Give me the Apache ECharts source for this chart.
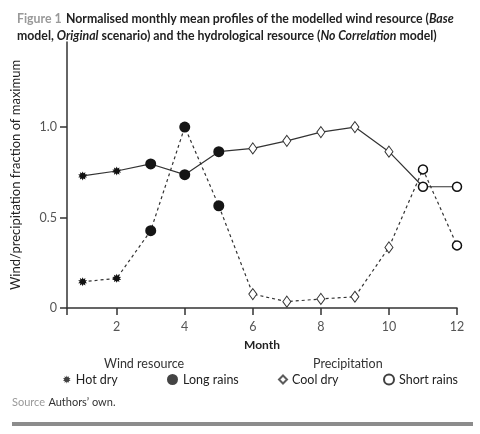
<!DOCTYPE html>
<html>
<head>
<meta charset="utf-8">
<script src="https://cdn.jsdelivr.net/npm/echarts@6/dist/echarts.min.js"></script>
<style>
  html, body { margin: 0; padding: 0; background: #fff; }
  #chart { width: 480px; height: 434px; }
</style>
</head>
<body>
<div id="chart"></div>
<script>
// data
const months = [1, 2, 3, 4, 5, 6, 7, 8, 9, 10, 11, 12];
const windValues = [0.73, 0.757, 0.796, 0.737, 0.864, 0.882, 0.924, 0.972, 1.0, 0.864, 0.67, 0.67];
const precipValues = [0.145, 0.164, 0.427, 1.0, 0.565, 0.077, 0.035, 0.05, 0.062, 0.335, 0.766, 0.346];
const seasonOfMonth = ['Hot dry', 'Hot dry', 'Long rains', 'Long rains', 'Long rains',
    'Cool dry', 'Cool dry', 'Cool dry', 'Cool dry', 'Cool dry', 'Short rains', 'Short rains'];
const seasons = ['Hot dry', 'Long rains', 'Cool dry', 'Short rains'];
const xTickValues = [2, 4, 6, 8, 10, 12];
const yTickValues = [0, 0.5, 1];
const yTickLabels = ['0', '0.5', '1.0'];

const FONT = 'Lato';
const X_MIN = 0.54;

// starburst marker for "Hot dry"
function starPath(spikes) {
    let d = '';
    for (let i = 0; i < spikes * 2; i++) {
        const r = i % 2 === 0 ? 10 : 6;
        const a = Math.PI * i / spikes;
        d += (i === 0 ? 'M' : 'L') + (10 + r * Math.sin(a)).toFixed(2) + ' ' + (10 - r * Math.cos(a)).toFixed(2);
    }
    return 'path://' + d + 'Z';
}
const STAR = starPath(10);

const markerStyle = {
    'Hot dry': { symbol: STAR, symbolSize: 9, itemStyle: { color: '#111', borderWidth: 0 } },
    'Long rains': { symbol: 'circle', symbolSize: 11, itemStyle: { color: '#151515', borderWidth: 0 } },
    'Cool dry': { symbol: 'diamond', symbolSize: [8, 11], itemStyle: { color: '#fff', borderColor: '#333', borderWidth: 1 } },
    'Short rains': { symbol: 'circle', symbolSize: 9, itemStyle: { color: '#fff', borderColor: '#111', borderWidth: 1.5 } }
};

function pointsFor(values) {
    return months.map((m, i) => {
        const s = markerStyle[seasonOfMonth[i]];
        return { value: [m, values[i]], symbol: s.symbol, symbolSize: s.symbolSize, itemStyle: s.itemStyle };
    });
}

const legendLeft = [63, 167, 278, 383];
const legendIcon = [8, 11, 8, 10];

const chart = echarts.init(document.getElementById('chart'));
chart.setOption({
    animation: false,
    textStyle: { fontFamily: FONT },
    title: {
        left: 12,
        top: 5,
        text: '{g|Figure 1} {b|Normalised monthly mean profiles of the modelled wind resource (}{i|Base}\n' +
            '{b|model, }{i|Original}{b| scenario) and the hydrological resource (}{i|No Correlation}{b| model)}',
        textStyle: {
            rich: {
                g: { color: '#999', fontSize: 12.3, fontFamily: FONT, fontWeight: 'bold', lineHeight: 16 },
                b: { color: '#222', fontSize: 12.3, fontFamily: FONT, fontWeight: 'bold', lineHeight: 16 },
                i: { color: '#222', fontSize: 12.3, fontFamily: FONT, fontWeight: 'bold', fontStyle: 'italic', lineHeight: 16 }
            }
        }
    },
    grid: { left: 67, right: 23, top: 42, bottom: 126, outerBoundsMode: 'none' },
    xAxis: {
        type: 'value',
        min: X_MIN,
        max: 12,
        name: 'Month',
        nameLocation: 'middle',
        nameGap: 31,
        nameTextStyle: { color: '#222', fontSize: 12, fontWeight: 'bold', fontFamily: FONT },
        axisLine: { lineStyle: { color: '#333', width: 1.5 } },
        axisTick: { length: 7, lineStyle: { color: '#333', width: 1.5 }, customValues: [X_MIN].concat(xTickValues) },
        axisLabel: { color: '#555', fontSize: 12.5, margin: 12, customValues: xTickValues },
        splitLine: { show: false }
    },
    yAxis: {
        type: 'value',
        min: 0,
        max: 1.47,
        name: 'Wind/precipitation fraction of maximum',
        nameLocation: 'middle',
        nameGap: 45,
        nameTextStyle: { color: '#222', fontSize: 13, fontFamily: FONT },
        axisLine: { show: true, lineStyle: { color: '#333', width: 1.5 } },
        axisTick: { show: true, length: 7, lineStyle: { color: '#333', width: 1.5 }, customValues: yTickValues },
        axisLabel: {
            color: '#555', fontSize: 12.5, margin: 10, customValues: yTickValues,
            formatter: v => yTickLabels[yTickValues.indexOf(v)]
        },
        splitLine: { show: false }
    },
    legend: seasons.map((s, i) => ({
        data: [s],
        left: legendLeft[i],
        top: 373,
        padding: 0,
        itemGap: 0,
        itemWidth: legendIcon[i],
        itemHeight: legendIcon[i],
        textStyle: { color: '#222', fontSize: 12.5, fontFamily: FONT }
    })),
    graphic: [
        { type: 'text', left: 143 - 39, top: 357, style: { text: 'Wind resource', fill: '#333', font: '12.5px ' + FONT } },
        { type: 'text', left: 350 - 37, top: 357, style: { text: 'Precipitation', fill: '#333', font: '12.5px ' + FONT } },
        {
            type: 'text', left: 12, top: 396,
            style: {
                text: '{g|Source} {b|Authors\u2019 own.}',
                rich: {
                    g: { fill: '#999', fontSize: 11, fontFamily: FONT },
                    b: { fill: '#333', fontSize: 11, fontFamily: FONT }
                }
            }
        },
        { type: 'rect', shape: { x: 12, y: 422, width: 461, height: 4 }, style: { fill: '#8c8c8c' } }
    ],
    series: [
        {
            name: 'Wind resource',
            type: 'line',
            data: pointsFor(windValues),
            lineStyle: { color: '#333', width: 1.2 },
            z: 3
        },
        {
            name: 'Precipitation',
            type: 'line',
            data: pointsFor(precipValues),
            lineStyle: { color: '#333', width: 1.2, type: [3, 3] },
            z: 2
        }
    ].concat(seasons.map(s => ({
        name: s,
        type: 'scatter',
        data: [],
        symbol: markerStyle[s].symbol,
        symbolSize: markerStyle[s].symbolSize,
        itemStyle: markerStyle[s].itemStyle
    })))
});
</script>
</body>
</html>
